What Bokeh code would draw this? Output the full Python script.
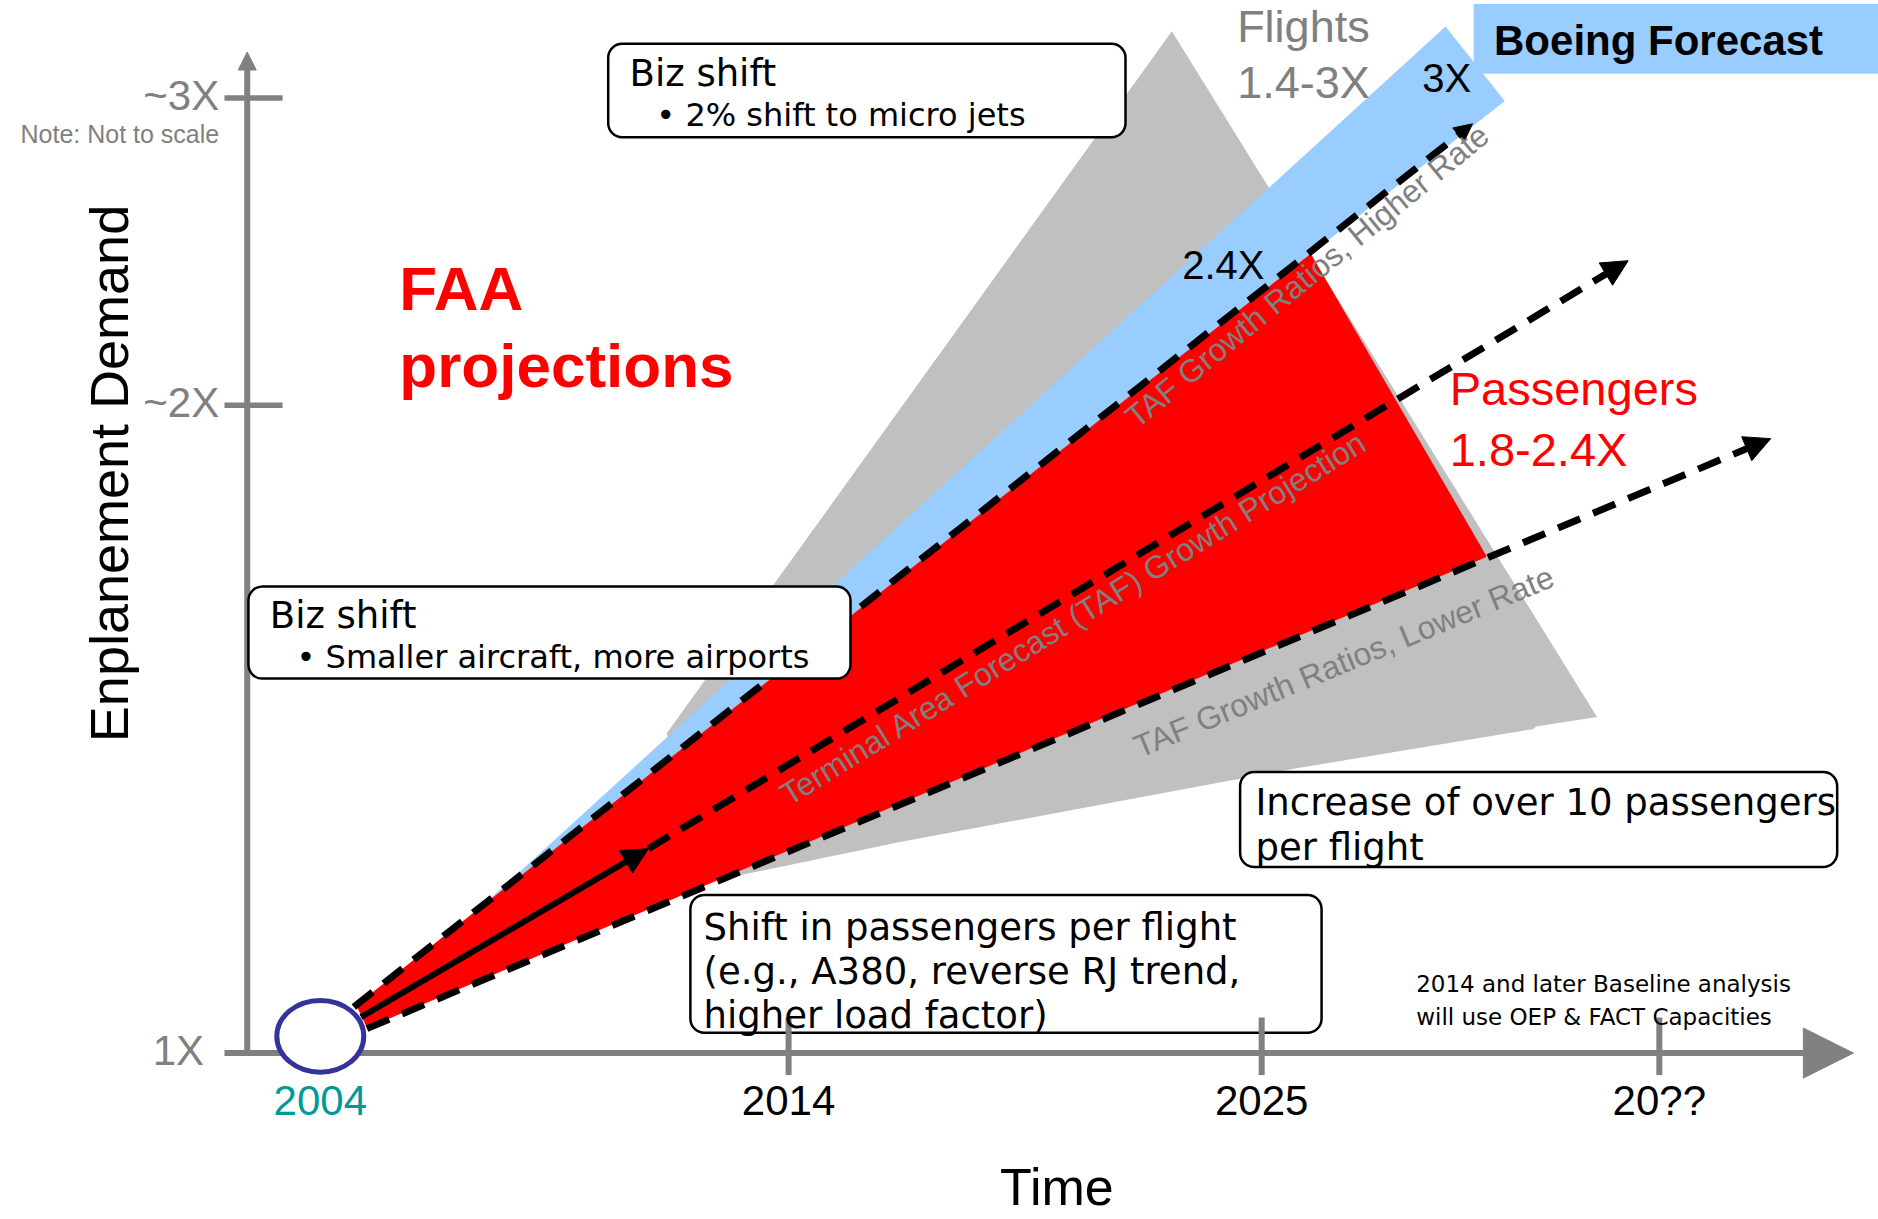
import math

from bokeh.plotting import figure
from bokeh.models import Range1d, Arrow, NormalHead, BoxAnnotation
from bokeh.core.properties import value
from bokeh.embed import file_html
from bokeh.resources import INLINE

# ---------------------------------------------------------------
# Schematic coordinates (not to scale):
#   x = time, y = enplanement demand, both in diagram units
# ---------------------------------------------------------------
time_tick_pos = [267, 658, 1053, 1385]
time_tick_labels = ["2004", "2014", "2025", "20??"]
time_tick_colors = ["#009999", "black", "black", "black"]

demand_tick_pos = [139, 680, 936.5]
demand_tick_labels = ["1X", "~2X", "~3X"]
demand_label_right = [170, 182.6, 182.6]

# Flights growth envelope (1.4-3X)
flights_x = [978, 1333, 1282, 1280, 1080, 751, 615, 556]
flights_y = [992.4, 419.6, 411.8, 409.6, 376.5, 315.2, 287, 405.7]

# Boeing forecast band (up to 3X)
boeing_x = [398, 1206.5, 1256]
boeing_y = [258, 996.3, 934]

# FAA passenger projections (1.8-2.4X)
passengers_x = [297, 1094, 1241, 306]
passengers_y = [179, 806.5, 553.5, 160]

# TAF projection rays: higher rate, central projection, lower rate
ray_x0 = [295, 541, 306]
ray_y0 = [177.5, 309.7, 159.4]
ray_x1 = [1229, 1359, 1478]
ray_y1 = [915, 800.7, 652.1]
ray_head = [18, 26, 26]

# Near-term trend arrow from the 2004 base
trend_x = [301, 541]
trend_y = [169, 309.7]

base_year_x, base_year_y = 267, 153

# Call-out boxes: left, right, bottom, top
box_left = [507.4, 207, 576, 1035]
box_right = [939.3, 709.7, 1103, 1533.5]
box_bottom = [903.9, 451.7, 156, 294.4]
box_top = [981.8, 528.7, 271, 373.7]

GRAY = "#808080"
LIGHT_GRAY = "#C0C0C0"
SKY = "#99CCFF"
RED = "#FF0000"
NAVY = "#333399"

PX_PER_UNIT = 1878 / 1568

p = figure(width=1878, height=1219,
           x_range=Range1d(0, 1568), y_range=Range1d(0, 1018),
           output_backend="svg", toolbar_location=None, min_border=0,
           x_axis_location=None, y_axis_location=None,
           outline_line_color=None, background_fill_color="white",
           border_fill_color="white")
for g in p.grid:
    g.visible = False

# growth envelopes
p.patch(flights_x, flights_y, fill_color=LIGHT_GRAY, line_color=None)
p.patch(boeing_x, boeing_y, fill_color=SKY, line_color=None)
p.quad(left=[1230], right=[1600], bottom=[956.8], top=[1015],
       fill_color=SKY, line_color=None)
p.patch(passengers_x, passengers_y, fill_color=RED, line_color=None)

# hand-drawn axes with arrow heads
p.add_layout(Arrow(end=NormalHead(size=50, fill_color=GRAY, line_color=GRAY),
                   x_start=187, y_start=demand_tick_pos[0],
                   x_end=1547, y_end=demand_tick_pos[0],
                   line_color=GRAY, line_width=6))
p.add_layout(Arrow(end=NormalHead(size=18, fill_color=GRAY, line_color=GRAY),
                   x_start=206, y_start=demand_tick_pos[0],
                   x_end=206, y_end=975,
                   line_color=GRAY, line_width=6))

# projection rays
for x0, y0, x1, y1, hs in zip(ray_x0, ray_y0, ray_x1, ray_y1, ray_head):
    p.add_layout(Arrow(end=NormalHead(size=hs, fill_color="black", line_color="black"),
                       x_start=x0, y_start=y0, x_end=x1, y_end=y1,
                       line_color="black", line_width=7, line_dash="24 14"))
p.add_layout(Arrow(end=NormalHead(size=26, fill_color="black", line_color="black"),
                   x_start=trend_x[0], y_start=trend_y[0],
                   x_end=trend_x[1], y_end=trend_y[1],
                   line_color="black", line_width=6))

# call-out boxes
for l, r, b, t in zip(box_left, box_right, box_bottom, box_top):
    p.add_layout(BoxAnnotation(left=l, right=r, bottom=b, top=t,
                               fill_color="white", fill_alpha=1.0,
                               line_color="black", line_alpha=1.0,
                               line_width=2.5, border_radius=14))

# tick marks
tk = p.segment(x0=time_tick_pos[1:], y0=120.6, x1=time_tick_pos[1:], y1=168.7,
               line_color=GRAY, line_width=6)
tk.level = "overlay"
tk = p.segment(x0=187, y0=demand_tick_pos[1:], x1=235.5, y1=demand_tick_pos[1:],
               line_color=GRAY, line_width=5.5)
tk.level = "overlay"

# 2004 base point
el = p.ellipse(x=[base_year_x], y=[base_year_y], width=72.6, height=60,
               fill_color="white", line_color=NAVY, line_width=5)
el.level = "overlay"


def put(x, y, text, size, color="black", font="Liberation Sans", style="normal",
        align="left", angle=0.0, y_offset=0, lift=1.0):
    # lift the anchor so the glyphs sit on the intended baseline
    k = lift * 0.39 * size / PX_PER_UNIT
    a = math.radians(angle)
    xs = [xi - k * math.sin(a) for xi in x]
    ys = [yi + k * math.cos(a) for yi in y]
    r = p.text(x=xs, y=ys, text=text, text_font=value(font),
               text_font_size=f"{size}px", text_font_style=style,
               text_color=color, text_align=align, text_baseline="alphabetic",
               angle=angle, angle_units="deg", y_offset=y_offset)
    r.level = "overlay"
    return r


# axis labels
put(demand_label_right, demand_tick_pos, demand_tick_labels, 42, color=GRAY,
    align="right", y_offset=14)
put([182.6], [898.3], ["Note: Not to scale"], 25, color=GRAY, align="right")
put(time_tick_pos, [86] * 4, time_tick_labels, 42, color=time_tick_colors,
    align="center")
put([108], [623], ["Enplanement Demand"], 54, align="center", angle=90)
put([882], [10], ["Time"], 52, align="center")

# headline
put([333, 333], [757, 693], ["FAA", "projections"], 62, color=RED, style="bold")

# envelope labels
put([1210, 1210], [679, 628], ["Passengers", "1.8-2.4X"], 47, color=RED)
put([1032.5, 1032.5], [981.8, 934.5], ["Flights", "1.4-3X"], 45, color=GRAY)
put([1247], [971], ["Boeing Forecast"], 42, style="bold")
put([1187, 986.6], [940.1, 784.2], ["3X", "2.4X"], 40)

# ray labels
put([947], [662], ["TAF Growth Ratios, Higher Rate"], 32, color=GRAY,
    angle=39.3, lift=0.6)
put([657], [347.3], ["Terminal Area Forecast (TAF) Growth Projection"], 32,
    color=GRAY, angle=31.7, lift=0.6)
put([950], [388], ["TAF Growth Ratios, Lower Rate"], 32, color=GRAY,
    angle=22.5, lift=0.6)

# call-out texts
BOX_FONT = "DejaVu Sans"
put([525.2, 224.8], [945.1, 492], ["Biz shift", "Biz shift"], 37, font=BOX_FONT)
put([547.6, 247.2], [912.2, 459.1],
    ["\u2022 2% shift to micro jets", "\u2022 Smaller aircraft, more airports"],
    32, font=BOX_FONT)
put([587] * 3, [232, 195, 158],
    ["Shift in passengers per flight", "(e.g., A380, reverse RJ trend,",
     "higher load factor)"], 37, font=BOX_FONT)
put([1047.8] * 2, [336.1, 298.6],
    ["Increase of over 10 passengers", "per flight"], 37, font=BOX_FONT)
put([1182] * 2, [189, 162],
    ["2014 and later Baseline analysis", "will use OEP & FACT Capacities"],
    23, font=BOX_FONT)

open("out.html", "w").write(file_html(p, INLINE))
